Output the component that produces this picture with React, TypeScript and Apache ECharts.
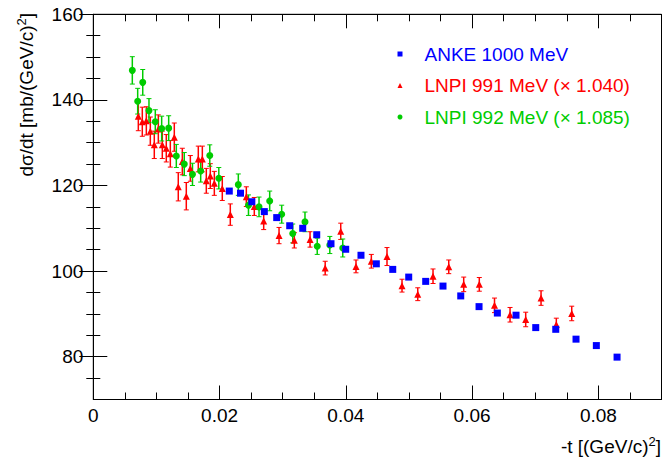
import React, { useEffect, useRef } from "react";
import * as echarts from "echarts";

// ANKE 1000 MeV
const ankeT = [0.02154, 0.02332, 0.02511, 0.02709, 0.02905, 0.03111, 0.03317, 0.03539, 0.03765, 0.03998, 0.0424, 0.04483, 0.04743, 0.04996, 0.05265, 0.05539, 0.0582, 0.0611, 0.064, 0.06696, 0.07008, 0.07325, 0.07646, 0.07968, 0.08296];
const ankeXs = [118.7, 118.2, 116.2, 113.9, 112.5, 110.6, 110.0, 108.5, 106.4, 105.1, 103.7, 101.7, 100.4, 98.6, 97.6, 96.5, 94.2, 91.7, 90.2, 89.7, 86.8, 86.4, 84.1, 82.6, 79.9];

// LNPI 991 MeV (x 1.040)
const lnpi991T = [0.00713, 0.00776, 0.0084, 0.00903, 0.00966, 0.0103, 0.01093, 0.01156, 0.0122, 0.01283, 0.01346, 0.0141, 0.01473, 0.01537, 0.01663, 0.01727, 0.0179, 0.01853, 0.01917, 0.02043, 0.0217, 0.02424, 0.0255, 0.02699, 0.02942, 0.03184, 0.03433, 0.03673, 0.03919, 0.04161, 0.04404, 0.04652, 0.0489, 0.05139, 0.05381, 0.0563, 0.05867, 0.06114, 0.06355, 0.06601, 0.06849, 0.07092, 0.07334, 0.07578];
const lnpi991Xs = [136.2, 134.9, 135.1, 132.7, 129.5, 133.2, 129.5, 128.7, 127.4, 131.3, 119.7, 125.6, 117.5, 124.0, 126.2, 126.2, 121.1, 122.2, 120.5, 119.3, 113.2, 117.4, 115.1, 111.7, 108.3, 107.2, 107.4, 100.7, 109.3, 101.1, 102.3, 103.4, 96.6, 94.6, 98.8, 101.0, 96.9, 96.9, 92.0, 89.8, 88.7, 93.7, 87.5, 90.1];
const lnpi991Err = [3.4, 3.4, 3.3, 3.3, 3.2, 3.3, 3.2, 3.2, 3.1, 3.3, 3.3, 3.1, 3.2, 3.0, 3.0, 3.0, 2.9, 2.9, 2.8, 2.8, 2.5, 2.3, 2.1, 2.0, 1.9, 1.8, 1.8, 1.6, 1.9, 1.5, 1.6, 2.1, 1.5, 1.5, 1.7, 1.6, 1.7, 1.6, 1.7, 1.7, 1.7, 1.7, 1.5, 1.7];

// LNPI 992 MeV (x 1.085)
const lnpi992T = [0.00618, 0.00703, 0.00783, 0.00882, 0.00982, 0.01083, 0.01194, 0.01315, 0.01441, 0.01571, 0.01701, 0.01845, 0.01988, 0.02297, 0.02458, 0.02625, 0.02794, 0.02984, 0.03159, 0.03353, 0.03547, 0.03746, 0.03951];
const lnpi992Xs = [146.9, 139.7, 144.1, 137.5, 134.9, 133.3, 133.4, 126.9, 125.0, 122.6, 123.4, 127.0, 121.7, 120.2, 115.4, 115.0, 116.4, 113.3, 108.8, 111.5, 105.8, 106.1, 105.4];
const lnpi992Err = [3.2, 3.0, 3.0, 2.8, 2.8, 2.9, 2.9, 2.7, 2.7, 2.6, 2.6, 2.5, 2.5, 2.5, 2.4, 2.3, 2.3, 2.1, 2.2, 2.3, 1.9, 2.0, 2.1];

// Axes
const xRange = [0, 0.09];
const yRange = [70, 160];
const xMajorTicks = [0, 0.02, 0.04, 0.06, 0.08];
const xMinorTicks = [0.005, 0.01, 0.015, 0.025, 0.03, 0.035, 0.045, 0.05, 0.055, 0.065, 0.07, 0.075, 0.085];
const yMajorTicks = [80, 100, 120, 140, 160];
const yMinorTicks = [75, 85, 90, 95, 105, 110, 115, 125, 130, 135, 145, 150, 155];

const seriesNames = ["ANKE 1000 MeV", "LNPI 991 MeV (\u00d7 1.040)", "LNPI 992 MeV (\u00d7 1.085)"];
const xTitle = "-t [(GeV/c){sup|2}]";
const yTitle = "d\u03c3/dt [mb/(GeV/c){sup|2}]";

const FONT = "'Liberation Sans', Arial, Helvetica, sans-serif";
const BLUE = "#0000ff";
const RED = "#ff0000";
const GREEN = "#00cc00";

function errorRenderer(color: string) {
  return (_params: any, api: any) => {
    const x = api.value(0);
    const lo = api.coord([x, api.value(1)]);
    const hi = api.coord([x, api.value(2)]);
    const c = 2.5;
    return {
      type: "group",
      children: [
        { type: "line", shape: { x1: lo[0], y1: lo[1], x2: hi[0], y2: hi[1] }, style: { stroke: color, lineWidth: 1.5 } },
        { type: "line", shape: { x1: lo[0] - c, y1: lo[1], x2: lo[0] + c, y2: lo[1] }, style: { stroke: color, lineWidth: 1 } },
        { type: "line", shape: { x1: hi[0] - c, y1: hi[1], x2: hi[0] + c, y2: hi[1] }, style: { stroke: color, lineWidth: 1 } },
      ],
    };
  };
}

const black = { color: "#000", width: 1 };

function makeAxis(kind: "x" | "y", position: string, ticks: number[], len: number, line: boolean, labels: boolean) {
  const range = kind === "x" ? xRange : yRange;
  return {
    type: "value",
    position,
    min: range[0],
    max: range[1],
    splitLine: { show: false },
    axisLine: { show: line, lineStyle: black },
    axisTick: { show: true, inside: true, length: len, customValues: ticks, lineStyle: black },
    axisLabel: labels
      ? {
          show: true,
          customValues: ticks,
          color: "#000",
          fontSize: 19,
          fontFamily: FONT,
          margin: kind === "x" ? 6 : 10,
          formatter: (v: number) => (kind === "x" ? (v === 0 ? "0" : v.toFixed(2)) : String(Math.round(v))),
        }
      : { show: false },
    z: 5,
  };
}

const titleRich = {
  sup: { fontSize: 13, fontFamily: FONT, fill: "#000", padding: [0, 0, 9, 0] },
};

export default function App() {
  const ref = useRef<HTMLDivElement>(null);

  useEffect(() => {
    if (!ref.current) return;
    const chart = echarts.init(ref.current, null, { renderer: "svg" });

    const option: any = {
      animation: false,
      grid: { left: 93.3, right: 1.5, top: 14.3, bottom: 64.5, show: true, borderColor: "#000", borderWidth: 1, backgroundColor: "transparent" },
      xAxis: [
        makeAxis("x", "bottom", xMajorTicks, 14, true, true),
        makeAxis("x", "bottom", xMinorTicks, 7, false, false),
        makeAxis("x", "top", xMajorTicks, 14, true, false),
        makeAxis("x", "top", xMinorTicks, 7, false, false),
      ],
      yAxis: [
        makeAxis("y", "left", yMajorTicks, 14, true, true),
        makeAxis("y", "left", yMinorTicks, 7, false, false),
        makeAxis("y", "right", yMajorTicks, 14, true, false),
        makeAxis("y", "right", yMinorTicks, 7, false, false),
      ],
      legend: {
        orient: "vertical",
        left: 397.5,
        top: 44,
        padding: 0,
        itemWidth: 5,
        itemHeight: 5,
        itemGap: 11.5,
        selectedMode: false,
        textStyle: { fontSize: 19, fontFamily: FONT, lineHeight: 20, padding: [0, 0, 0, 17] },
        data: [
          { name: seriesNames[0], icon: "rect", textStyle: { color: BLUE } },
          { name: seriesNames[1], icon: "triangle", textStyle: { color: RED } },
          { name: seriesNames[2], icon: "circle", textStyle: { color: GREEN } },
        ],
      },
      graphic: [
        {
          type: "text",
          x: 26,
          y: 13,
          rotation: Math.PI / 2,
          style: { text: yTitle, rich: titleRich, fontSize: 19, fontFamily: FONT, fill: "#000", align: "right", verticalAlign: "middle" },
        },
        {
          type: "text",
          x: 661,
          y: 446,
          style: { text: xTitle, rich: titleRich, fontSize: 19, fontFamily: FONT, fill: "#000", align: "right", verticalAlign: "middle" },
        },
      ],
      series: [
        {
          type: "custom",
          name: "LNPI 991 err",
          xAxisIndex: 0,
          yAxisIndex: 0,
          silent: true,
          data: lnpi991T.map((t, i) => [t, lnpi991Xs[i] - lnpi991Err[i], lnpi991Xs[i] + lnpi991Err[i]]),
          encode: { x: 0, y: [1, 2] },
          renderItem: errorRenderer(RED),
        },
        {
          type: "scatter",
          name: seriesNames[1],
          xAxisIndex: 0,
          yAxisIndex: 0,
          symbol: "triangle",
          symbolSize: 7,
          itemStyle: { color: RED, opacity: 1 },
          data: lnpi991T.map((t, i) => [t, lnpi991Xs[i]]),
        },
        {
          type: "custom",
          name: "LNPI 992 err",
          xAxisIndex: 0,
          yAxisIndex: 0,
          silent: true,
          data: lnpi992T.map((t, i) => [t, lnpi992Xs[i] - lnpi992Err[i], lnpi992Xs[i] + lnpi992Err[i]]),
          encode: { x: 0, y: [1, 2] },
          renderItem: errorRenderer(GREEN),
        },
        {
          type: "scatter",
          name: seriesNames[2],
          xAxisIndex: 0,
          yAxisIndex: 0,
          symbol: "circle",
          symbolSize: 7,
          itemStyle: { color: GREEN, opacity: 1 },
          data: lnpi992T.map((t, i) => [t, lnpi992Xs[i]]),
        },
        {
          type: "scatter",
          name: seriesNames[0],
          xAxisIndex: 0,
          yAxisIndex: 0,
          symbol: "rect",
          symbolSize: 7,
          itemStyle: { color: BLUE, opacity: 1 },
          data: ankeT.map((t, i) => [t, ankeXs[i]]),
        },
      ],
    };

    chart.setOption(option);
    return () => {
      chart.dispose();
    };
  }, []);

  return (
    <div
      ref={ref}
      style={{ position: "fixed", left: 0, top: 0, width: "663px", height: "464px", background: "#fff" }}
    />
  );
}
